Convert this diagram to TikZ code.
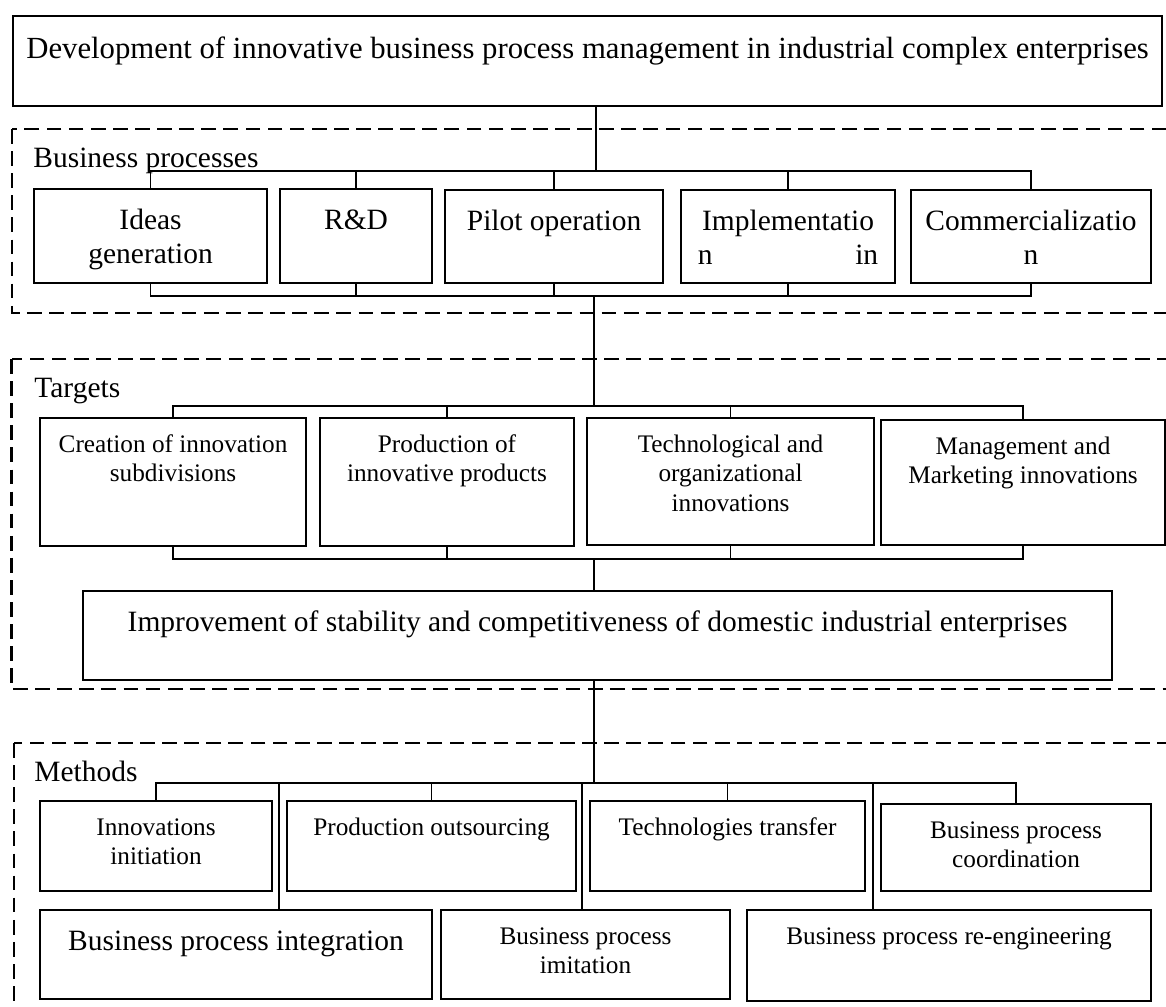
\documentclass[tikz,border=0pt]{standalone}
\usepackage{fontspec}
\setmainfont{Liberation Serif}
\newlength\px
\setlength\px{0.475pt}
\newcommand{\inbox}[3]{\parbox[c][#2\px][t]{#1\px}{\centering\rule{0pt}{1.38em}#3}}
\tikzset{
  box/.style={draw, line width=1pt, inner sep=0pt, anchor=north west},
  big/.style={font=\fontsize{14}{16.1}\selectfont},
  small/.style={font=\fontsize{12}{13.8}\selectfont},
  frame/.style={line width=1.1pt, dash pattern=on 7pt off 3.5pt},
  link/.style={line width=0.7pt},
  head/.style={anchor=base west, inner sep=0pt, font=\fontsize{14}{16.1}\selectfont}
}
\begin{document}
\begin{tikzpicture}[x=0.475pt, y=-0.475pt]
  \useasboundingbox (0,0) rectangle (1166,1007);
  \draw[frame] (12,129) rectangle (1190,313);
  \draw[frame] (11.5,359) rectangle (1190,689);
  \draw[frame] (14,743) rectangle (1190,1030);

  \node[box, font=\fontsize{14.6}{16.8}\selectfont] (title) at (12,15) {\inbox{1149}{90}{Development of innovative business process management in industrial complex enterprises}};

  \node[head] (bplabel) at (33,168) {Business processes};
  \node[box, big] (ideas) at (33,188) {\inbox{233}{94}{Ideas\\generation}};
  \node[box, big] (rd) at (279,188) {\inbox{152}{94}{R\&D}};
  \node[box, big] (pilot) at (444,189) {\inbox{218}{93}{Pilot operation}};
  \node[box, big] (impl) at (680,189) {\inbox{214}{93}{Implementatio\\\hspace*{8pt}n\hfill in\hspace*{8pt}}};
  \node[box, big] (comm) at (910,189) {\inbox{240}{93}{Commercializatio\\n}};

  \node[head] (tglabel) at (34,398) {Targets};
  \node[box, small] (cre) at (39,417) {\inbox{266}{128}{Creation of innovation\\subdivisions}};
  \node[box, small] (prod) at (319,417) {\inbox{254}{128}{Production of\\innovative products}};
  \node[box, small] (tech) at (586,417) {\inbox{287}{127}{Technological and\\organizational\\innovations}};
  \node[box, small] (mgmt) at (880,419) {\inbox{284}{125}{Management and\\Marketing innovations}};
  \node[box, big] (improv) at (82,590) {\inbox{1029}{89}{Improvement of stability and competitiveness of domestic industrial enterprises}};

  \node[head] (mtlabel) at (34,782) {Methods};
  \node[box, small] (innov) at (39,800) {\inbox{232}{90}{Innovations\\initiation}};
  \node[box, small] (prodout) at (286,800) {\inbox{289}{90}{Production outsourcing}};
  \node[box, small] (techtr) at (589,800) {\inbox{275}{90}{Technologies transfer}};
  \node[box, small] (coord) at (880,803) {\inbox{270}{87}{Business process\\coordination}};
  \node[box, big] (integ) at (39,909) {\inbox{392}{89}{Business process integration}};
  \node[box, small] (imit) at (440,909) {\inbox{289}{89}{Business process\\imitation}};
  \node[box, small] (reeng) at (746,909) {\inbox{404}{91}{Business process re-engineering}};

  \coordinate (bpin) at (596,171);
  \coordinate (bpout) at (594,296);
  \coordinate (tgin) at (594,406);
  \coordinate (tgout) at (594,559);
  \coordinate (mtin) at (594,783);

  \draw[link] (title.south -| bpin) -- (bpin);
  \draw[link] (ideas.north) -- (ideas.north |- bpin) -- (comm.north |- bpin) -- (comm.north);
  \draw[link] (ideas.south) -- (ideas.south |- bpout) -- (comm.south |- bpout) -- (comm.south);
  \foreach \n in {rd,pilot,impl} {
    \draw[link] (\n.north) -- (\n.north |- bpin);
    \draw[link] (\n.south) -- (\n.south |- bpout);
  }
  \draw[link] (bpout) -- (tgin);
  \draw[link] (cre.north) -- (cre.north |- tgin) -- (mgmt.north |- tgin) -- (mgmt.north);
  \draw[link] (cre.south) -- (cre.south |- tgout) -- (mgmt.south |- tgout) -- (mgmt.south);
  \foreach \n in {prod,tech} {
    \draw[link] (\n.north) -- (\n.north |- tgin);
    \draw[link] (\n.south) -- (\n.south |- tgout);
  }
  \draw[link] (tgout) -- (tgout |- improv.north);
  \draw[link] (improv.south -| mtin) -- (mtin);
  \draw[link] (innov.north) -- (innov.north |- mtin) -- (coord.north |- mtin) -- (coord.north);
  \foreach \n in {prodout,techtr}
    \draw[link] (\n.north) -- (\n.north |- mtin);
  \foreach \x/\n in {279/integ,582/imit,873/reeng} {
    \coordinate (drop) at (\x,783);
    \draw[link] (drop) -- (drop |- \n.north);
  }
\end{tikzpicture}
\end{document}
